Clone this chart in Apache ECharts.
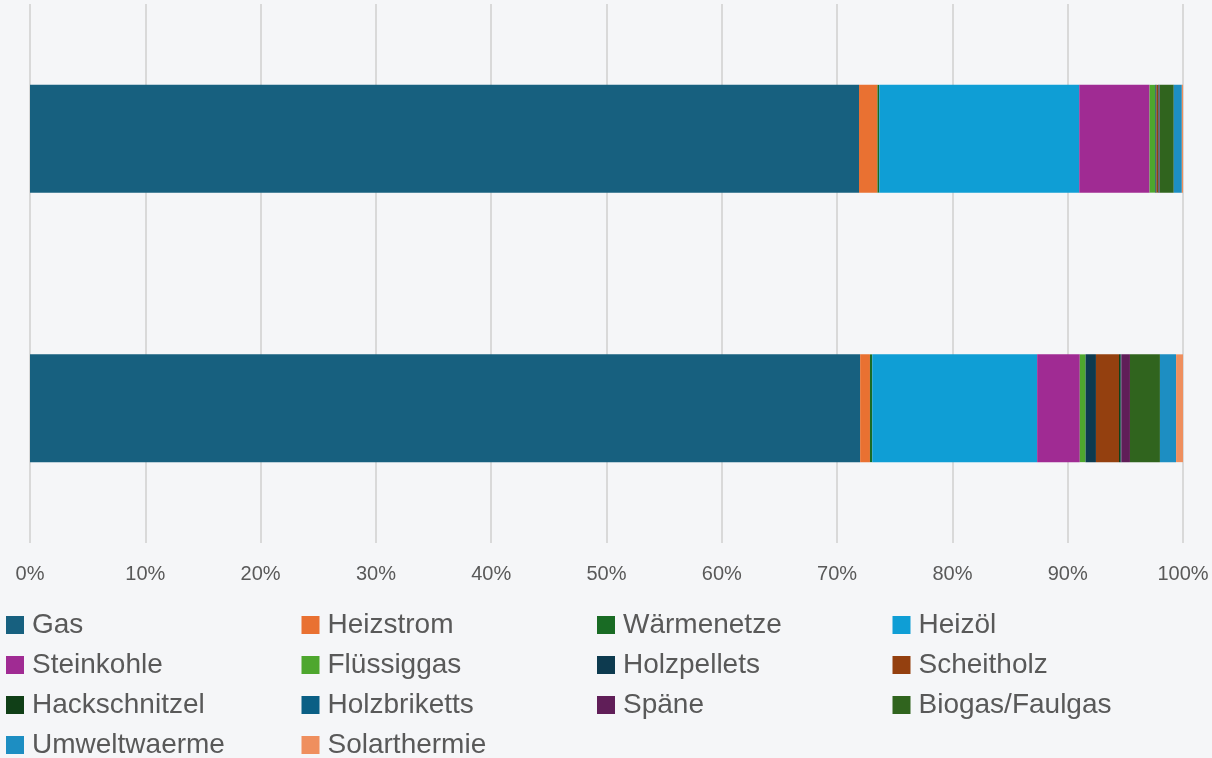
<!DOCTYPE html>
<html>
<head>
<meta charset="utf-8">
<script src="https://cdn.jsdelivr.net/npm/echarts@6/dist/echarts.min.js"></script>
<style>
  html, body { margin: 0; padding: 0; background: #f5f6f8; }
  #chart { width: 1212px; height: 758px; }
</style>
</head>
<body>
<div id="chart"></div>
<script>
// two stacked 100% bars (category names are not shown in the chart)
const categories = ['Balken 1', 'Balken 2']
const tickLabels = ['0%', '10%', '20%', '30%', '40%', '50%', '60%', '70%', '80%', '90%', '100%']

const seriesNames = ['Gas', 'Heizstrom', 'Wärmenetze', 'Heizöl', 'Steinkohle', 'Flüssiggas',
  'Holzpellets', 'Scheitholz', 'Hackschnitzel', 'Holzbriketts', 'Späne', 'Biogas/Faulgas',
  'Umweltwaerme', 'Solarthermie']

// shares in percent, [top bar, bottom bar]
const gas = [71.9, 72.0]
const heizstrom = [1.6, 0.85]
const waermenetze = [0.15, 0.2]
const heizoel = [17.35, 14.3]
const steinkohle = [6.1, 3.7]
const fluessiggas = [0.5, 0.5]
const holzpellets = [0.1, 0.9]
const scheitholz = [0.15, 2.0]
const hackschnitzel = [0.05, 0.15]
const holzbriketts = [0.05, 0.05]
const spaene = [0.05, 0.75]
const biogas = [1.2, 2.6]
const umweltwaerme = [0.7, 1.4]
const solarthermie = [0.1, 0.6]

const seriesValues = [gas, heizstrom, waermenetze, heizoel, steinkohle, fluessiggas,
  holzpellets, scheitholz, hackschnitzel, holzbriketts, spaene, biogas, umweltwaerme, solarthermie]

const colors = ['#17607f', '#e97132', '#196b24', '#0f9ed5', '#a02b93', '#4ea72e',
  '#0d3a4f', '#94400f', '#103f17', '#0a5f85', '#601e58', '#30641e', '#1d8ec2', '#ef8f5e']

const font = 'Liberation Sans'

const myChart = echarts.init(document.getElementById('chart'))
myChart.setOption({
  backgroundColor: '#f5f6f8',
  animation: false,
  grid: {
    top: 4,
    left: 30,
    right: 29,
    bottom: 215
  },
  legend: {
    left: 6,
    top: 605,
    width: 1206,
    padding: 0,
    itemGap: 0,
    itemWidth: 18,
    itemHeight: 18,
    icon: 'rect',
    data: seriesNames,
    textStyle: {
      fontFamily: font,
      fontSize: 28,
      color: '#595959',
      width: 269.5,
      lineHeight: 40,
      padding: [0, 0, 0, 3]
    }
  },
  xAxis: {
    type: 'value',
    min: 0,
    max: 100,
    interval: 10,
    axisLine: { show: false },
    axisTick: { show: false },
    splitLine: { lineStyle: { color: '#d9d9d9', width: 2 } },
    axisLabel: {
      margin: 21,
      fontFamily: font,
      fontSize: 20,
      color: '#595959',
      formatter: (v) => tickLabels[Math.round(v / 10)]
    }
  },
  yAxis: {
    type: 'category',
    data: categories,
    inverse: true,
    axisLine: { show: false },
    axisTick: { show: false },
    axisLabel: { show: false }
  },
  series: seriesNames.map((name, i) => ({
    name,
    type: 'bar',
    stack: 'total',
    barWidth: '40%',
    itemStyle: { color: colors[i] },
    data: seriesValues[i]
  }))
})
</script>
</body>
</html>
